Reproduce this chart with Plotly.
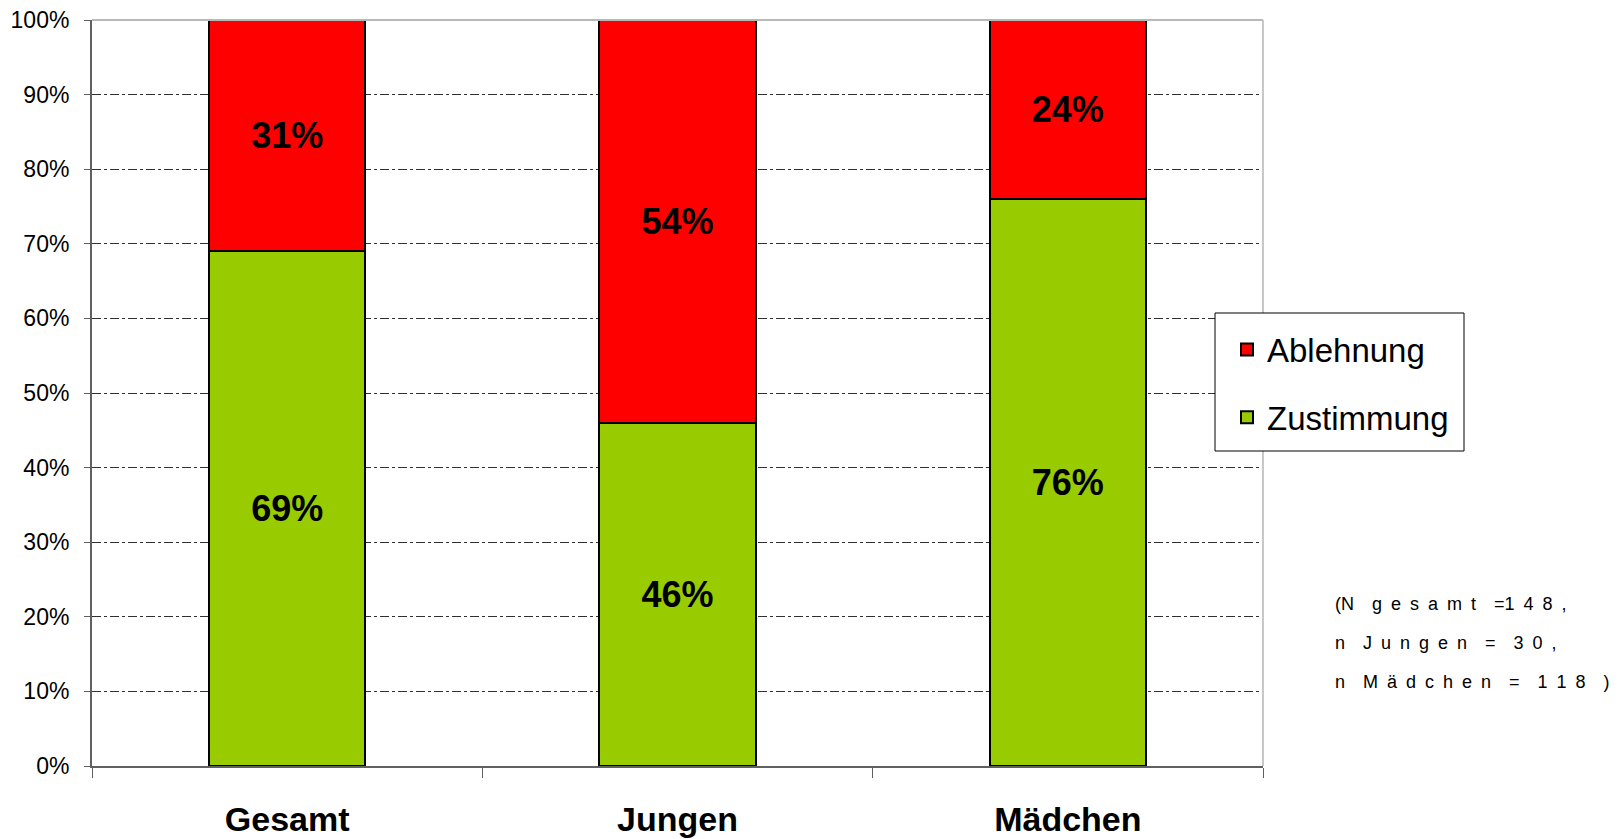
import plotly.graph_objects as go

categories = ["Gesamt", "Jungen", "Mädchen"]
zustimmung = [69, 46, 76]
ablehnung = [31, 54, 24]
y_ticks = [0, 10, 20, 30, 40, 50, 60, 70, 80, 90, 100]
y_tick_labels = [f"{v}%" for v in y_ticks]
E = "\u2002"
note_lines = [
    "(N" + E * 2 + E.join("gesamt") + E * 2 + "=1" + E + "4" + E + "8" + E + ",",
    "n" + E * 2 + E.join("Jungen") + E * 2 + "=" + E * 2 + "3" + E + "0" + E + ",",
    "n" + E * 2 + E.join("Mädchen") + E * 2 + "=" + E * 2 + "1" + E + "1" + E + "8" + E * 2 + ")",
]

FONT = "Liberation Sans, Arial, sans-serif"

# page body has an 8px margin; screen coords -> figure coords
OFF = 8
W, H = 1620 - OFF, 839 - OFF
# plot area in screen pixels
PL, PR, PT, PB = 92, 1263, 20, 766
def px(x):
    return (x - PL) / (PR - PL)
def py(y):
    return (PB - y) / (PB - PT)

fig = go.Figure()
for name, vals, color, grp, rank in [("Zustimmung", zustimmung, "#99CC00", "z", 2),
                                     ("Ablehnung", ablehnung, "#FF0000", "a", 1)]:
    fig.add_trace(go.Bar(
        x=categories, y=vals, name=name, legendgroup=grp, legendrank=rank,
        marker=dict(color=color, line=dict(color="black", width=2)),
        texttemplate="%{y}%", textposition="inside", insidetextanchor="middle",
        textangle=0, constraintext="none",
        textfont=dict(family=FONT, size=36, color="black", weight="bold"),
        width=0.4,
    ))

fig.update_layout(
    barmode="stack",
    width=W, height=H,
    margin=dict(l=PL - OFF, r=(W + OFF) - PR, t=PT - OFF, b=(H + OFF) - PB),
    plot_bgcolor="white", paper_bgcolor="white",
    font=dict(family=FONT, color="black"),
    showlegend=True,
    legend=dict(
        x=px(1227), y=py(383.5), xanchor="left", yanchor="middle",
        borderwidth=0, bgcolor="rgba(0,0,0,0)",
        font=dict(family=FONT, size=33, color="black"),
        traceorder="grouped", tracegroupgap=22,
    ),
)
fig.update_xaxes(
    type="category", tickson="boundaries", automargin=False,
    showline=True, linecolor="#606060", linewidth=2,
    ticks="outside", ticklen=10, tickcolor="#606060", tickwidth=1,
    tickfont=dict(family=FONT, size=34, color="black", weight="bold"),
    ticklabelstandoff=22, ticklabeloverflow="allow",
    showgrid=False, range=[-0.5, 2.5],
)
fig.update_yaxes(
    range=[0, 100], tickvals=y_ticks, ticktext=y_tick_labels, automargin=False,
    showline=True, linecolor="#606060", linewidth=2,
    ticks="outside", ticklen=6, tickcolor="#606060",
    tickfont=dict(family=FONT, size=23, color="black"),
    ticklabelstandoff=10, ticklabeloverflow="allow",
    showgrid=True, gridcolor="#303030", gridwidth=1, griddash="9px,3px,3px,3px",
    zeroline=False,
)
# plot area border (top and right)
fig.add_shape(type="line", xref="paper", yref="paper", x0=0, x1=1, y0=1, y1=1,
              line=dict(color="#b8b8b8", width=2))
fig.add_shape(type="line", xref="paper", yref="paper", x0=1, x1=1, y0=0, y1=1,
              line=dict(color="#c8c8c8", width=2))
# legend frame
fig.add_shape(type="rect", xref="paper", yref="paper",
              x0=px(1215), x1=px(1464), y0=py(451), y1=py(313),
              line=dict(color="black", width=1), fillcolor="white", layer="above")

for i, line in enumerate(note_lines):
    fig.add_annotation(
        xref="paper", yref="paper", x=px(1333), y=py(604 + i * 39),
        xanchor="left", yanchor="middle", showarrow=False, text=line,
        font=dict(family=FONT, size=18, color="black"),
    )

fig.write_html("out.html")
